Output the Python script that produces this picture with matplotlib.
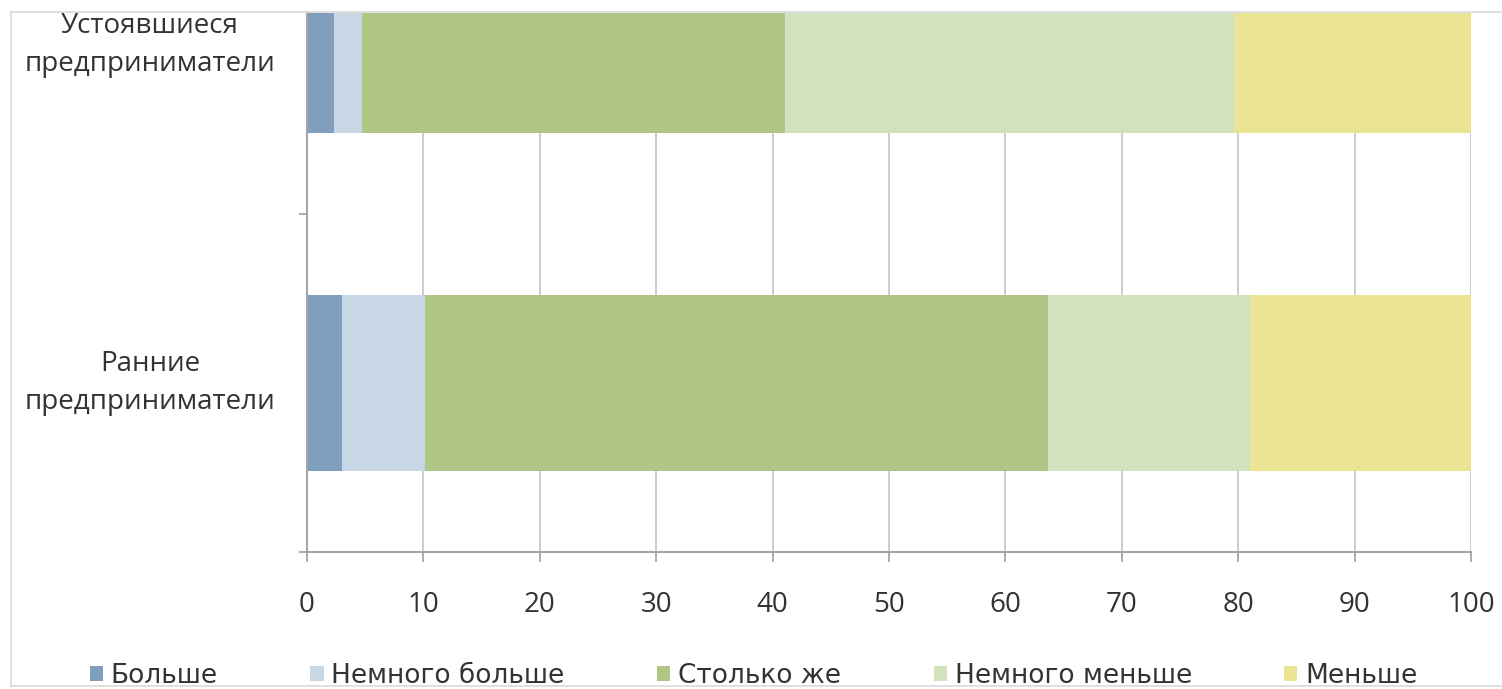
import numpy as np
import matplotlib.pyplot as plt
from matplotlib.lines import Line2D

# data
categories = ["Ранние\nпредприниматели", "Устоявшиеся\nпредприниматели"]
series = ["Больше", "Немного больше", "Столько же", "Немного меньше", "Меньше"]
bolshe = [3.0, 2.3]
nemnogo_bolshe = [7.1, 2.4]
stolko_zhe = [53.6, 36.4]
nemnogo_menshe = [17.3, 38.5]
menshe = [19.0, 20.5]
x_ticks = list(range(0, 101, 10))

colors = ["#809fbf", "#c7d7e5", "#afc687", "#d1e2bd", "#ece495"]

fig = plt.figure(figsize=(15.02, 6.89), dpi=100)
W, H = 1502, 689
ax = fig.add_axes([307 / W, (H - 552) / H, (1471 - 307) / W, (552 - 13) / H])

ypos = np.arange(len(categories))
left = np.zeros(len(categories))
for name, vals, c in zip(series, [bolshe, nemnogo_bolshe, stolko_zhe, nemnogo_menshe, menshe], colors):
    ax.barh(ypos, vals, left=left, height=0.518, color=c, label=name, zorder=2)
    left = left + np.array(vals)

ax.set_xlim(0, 100)
ax.set_ylim(-0.5, -0.5 + (552 - 13) / 338)
ax.set_xticks(x_ticks)
ax.set_xticklabels([str(v) for v in x_ticks], fontsize=20, fontfamily="Open Sans", color="#333333")
ax.tick_params(axis="x", length=7, width=1.3, color="#a6a6a6", pad=21)
ax.set_yticks([-0.5, 0.5])
ax.set_yticklabels([])
ax.tick_params(axis="y", length=6, width=1.3, color="#a6a6a6")
ax.grid(axis="x", color="#c8c8c8", lw=1.3, zorder=0)
ax.set_axisbelow(True)
for s in ["top", "right"]:
    ax.spines[s].set_visible(False)
for s in ["left", "bottom"]:
    ax.spines[s].set_color("#a6a6a6")
    ax.spines[s].set_linewidth(1.5)

# category labels (top one sits partly outside the visible range)
for y, lab in zip(ypos, categories):
    ax.text(-0.135, y, lab, transform=ax.get_yaxis_transform(), ha="center", va="center",
            fontsize=20, fontfamily="Open Sans", color="#333333", linespacing=1.5, clip_on=False)

leg = fig.legend(loc="lower left", bbox_to_anchor=(66 / W, -0.034), ncol=5, frameon=False,
                 prop={"family": "DejaVu Sans", "size": 19},
                 handlelength=0.5, handleheight=0.5, handletextpad=0.3, columnspacing=3.5)
for t in leg.get_texts():
    t.set_color("#333333")

# light frame of the original chart area
frame = dict(color="#d9d9d9", lw=1.2, transform=fig.transFigure)
fig.add_artist(Line2D([11 / W, 11 / W], [1 - 12 / H, 1 - 686 / H], **frame))
fig.add_artist(Line2D([11 / W, 1.0], [1 - 12 / H, 1 - 12 / H], **frame))
fig.add_artist(Line2D([11 / W, 1.0], [1 - 686 / H, 1 - 686 / H], **frame))

fig.savefig("out.png", dpi=100)
